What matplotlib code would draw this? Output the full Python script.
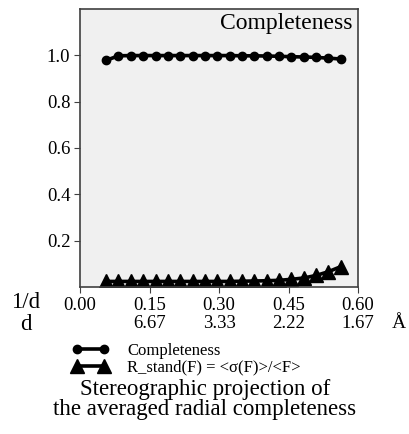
import matplotlib
matplotlib.use("Agg")
import matplotlib.pyplot as plt
import numpy as np

plt.rcParams["font.family"] = ["Liberation Serif", "DejaVu Serif"]

# resolution shells (1/d) and values
inv_d = [0.056, 0.083, 0.110, 0.136, 0.163, 0.190, 0.216, 0.243, 0.270, 0.296,
         0.323, 0.350, 0.376, 0.403, 0.430, 0.456, 0.483, 0.510, 0.536, 0.563]
completeness = [0.978, 0.998, 0.999, 0.999, 0.999, 0.999, 0.999, 0.999, 0.999, 0.999,
                0.999, 0.998, 0.998, 0.997, 0.996, 0.994, 0.993, 0.991, 0.988, 0.984]
r_stand = [0.024, 0.024, 0.024, 0.024, 0.024, 0.024, 0.024, 0.024, 0.024, 0.024,
           0.024, 0.025, 0.026, 0.027, 0.029, 0.033, 0.039, 0.050, 0.066, 0.088]

x_ticks = [0.00, 0.15, 0.30, 0.45, 0.60]
d_labels = ["", "6.67", "3.33", "2.22", "1.67"]
y_ticks = [0.2, 0.4, 0.6, 0.8, 1.0]

W, H = 409, 434
fig = plt.figure(figsize=(W / 100, H / 100), dpi=100)
ax = fig.add_axes([80 / W, 1 - 287 / H, 278 / W, 278 / H])
ax.set_facecolor("#f0f0f0")

l1, = ax.plot(inv_d, completeness, color="black", lw=2.6, marker="o", ms=6)
l2, = ax.plot(inv_d, r_stand, color="black", lw=2.6, marker="^", ms=10)

ax.set_xlim(0, 0.6)
ax.set_ylim(0, 1.2)
ax.set_xticks(x_ticks)
ax.set_xticklabels(["%.2f" % v for v in x_ticks])
ax.set_yticks(y_ticks)
ax.set_yticklabels(["%.1f" % v for v in y_ticks])
ax.tick_params(labelsize=13.5, length=4, color="#404040", pad=3)
for s in ax.spines.values():
    s.set_color("#404040")
    s.set_linewidth(1.2)

ax.text(0.98, 0.985, "Completeness", transform=ax.transAxes, ha="right", va="top", fontsize=17)

# second axis row: d in Angstrom
fig.text(26 / W, 1 - 303 / H, "1/d", ha="center", va="center", fontsize=16.5)
fig.text(26 / W, 1 - 324 / H, "d", ha="center", va="center", fontsize=16.5)
for xv, lab in zip(x_ticks, d_labels):
    px = 80 + xv / 0.6 * 278
    fig.text(px / W, 1 - 324 / H, lab, ha="center", va="center", fontsize=13.5)
fig.text(399 / W, 1 - 324 / H, "Å", ha="center", va="center", fontsize=14)

fig.legend([l1, l2], ["Completeness", "R_stand(F) = <σ(F)>/<F>"],
           loc="upper left", bbox_to_anchor=(72 / W, 1 - 343 / H), frameon=False,
           fontsize=12, numpoints=2, handlelength=2.2, handletextpad=1.1,
           labelspacing=0.05, borderpad=0, borderaxespad=0)

fig.text(205 / W, 1 - 389 / H, "Stereographic projection of", ha="center", va="center", fontsize=16.5)
fig.text(205 / W, 1 - 410 / H, "the averaged radial completeness", ha="center", va="center", fontsize=16.5)

fig.savefig("out.png", dpi=100)
